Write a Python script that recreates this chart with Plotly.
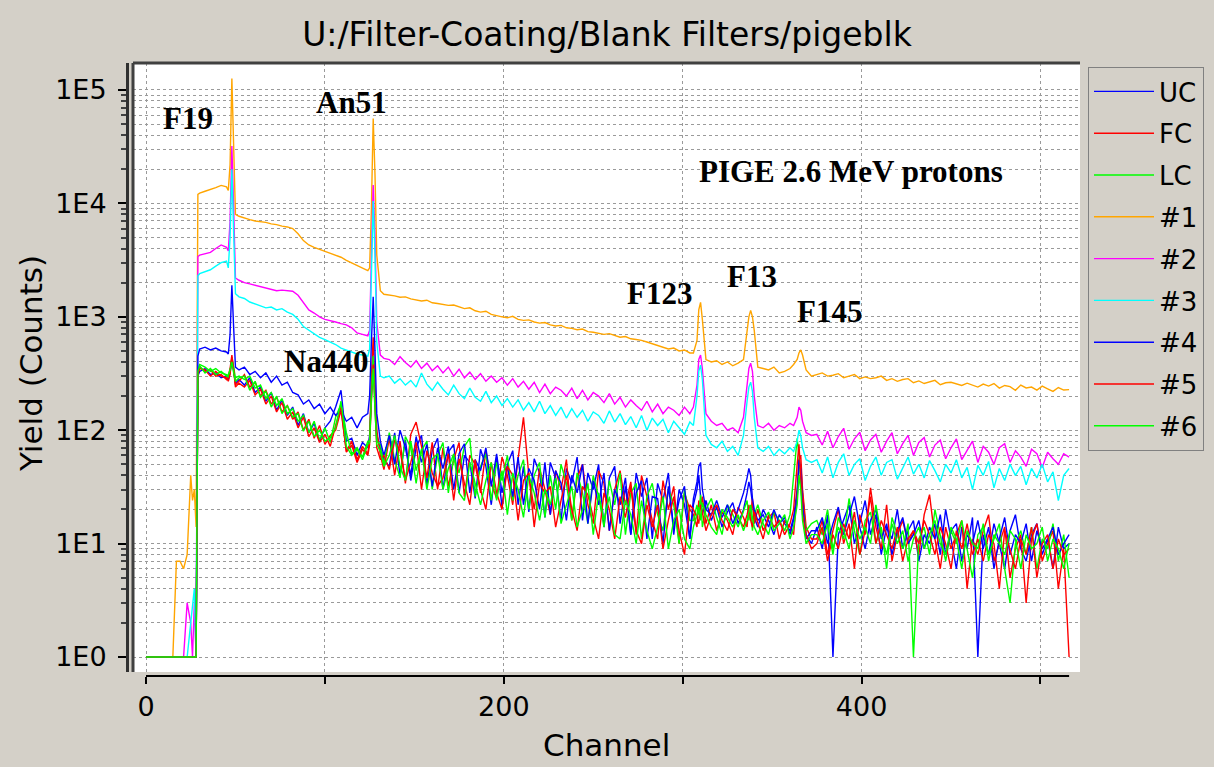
import math
import plotly.graph_objects as go

# PIGE spectra of blank filters (channel vs counts)
CHANNELS = ([0, 15, 17, 19, 21, 23, 25, 26, 27, 28,
             29, 30, 33, 36, 39, 42, 45, 46, 47, 48, 49, 50, 52]
            + list(range(55, 125, 3))
            + [125, 126, 127, 128, 129, 131, 133]
            + list(range(136, 305, 3))
            + [306, 308, 309, 310, 311, 313, 316, 319, 322, 325, 328, 331, 334,
               336, 337, 338, 339, 340, 342, 345, 348, 351, 354, 357, 360, 362,
               364, 365, 366, 367, 369, 372]
            + list(range(375, 517, 3)))

UC = [1, 1, 1, 1, 1, 1, 1, 1, 1, 1,
      300, 330, 350, 310, 320, 290, 300, 280, 320, 420, 330, 260, 280,
      250, 290, 215, 240, 180, 215, 150, 185, 135, 160, 110, 140, 95, 115, 80, 105, 120, 160, 225, 80, 85, 60, 78, 70,
      90, 200, 420, 200, 90, 70, 55,
      48, 95, 40, 82, 36, 70, 90, 33, 66, 85, 30, 64, 75, 28, 60, 52, 25, 68, 48, 22,
      58, 21, 50, 66, 22, 48, 19, 56, 42, 17, 52, 38, 16, 46, 34, 58, 16, 42, 30, 50,
      14, 38, 48, 15, 32, 12, 42, 26, 38, 11, 34, 24, 42, 12, 30, 22, 11,
      22, 30, 40, 26, 18, 24, 16, 21, 14, 19, 23, 15, 20, 28, 35, 30, 22, 17, 14, 20,
      16, 12, 18, 15, 13, 17, 30, 45, 50, 28, 12, 10,
      14, 9, 18, 1, 12, 16, 22, 10, 15, 24, 12, 18, 8, 14, 11, 20, 9, 13, 16, 7,
      12, 10, 15, 8, 20, 11, 6, 14, 9, 17, 1, 12, 8, 15, 10, 6, 13, 18, 9, 7,
      12, 15, 8, 11, 6, 14, 9, 10]

FC = [1, 1, 1, 1, 1, 1, 1, 1, 1, 1,
      320, 360, 330, 340, 300, 310, 280, 300, 350, 460, 350, 250, 270,
      310, 240, 265, 200, 225, 170, 195, 145, 165, 125, 145, 100, 125, 85, 110, 75, 90, 100, 150, 65, 80, 55, 72, 62,
      85, 300, 660, 250, 100, 60, 45,
      85, 40, 80, 34, 92, 118, 72, 38, 78, 30, 70, 32, 55, 78, 26, 60, 50, 28, 66, 34,
      25, 58, 40, 22, 56, 130, 40, 20, 46, 30, 18, 44, 30, 55, 16, 38, 50, 22, 15, 44,
      34, 13, 30, 44, 22, 35, 12, 40, 26, 16, 11, 36, 20, 32, 10, 28, 20,
      18, 14, 24, 20, 26, 15, 22, 13, 19, 16, 12, 21, 17, 14, 22, 18, 25, 15, 20, 13,
      17, 19, 11, 16, 14, 12, 28, 55, 60, 30, 14, 11,
      11, 16, 8, 13, 20, 10, 15, 6, 18, 12, 31, 14, 9, 22, 7, 12, 16, 10, 13, 8,
      18, 27, 11, 6, 14, 9, 12, 16, 4, 11, 8, 13, 18, 7, 10, 14, 5, 9, 12, 3,
      11, 15, 7, 10, 13, 4, 9, 1]

LC = [1, 1, 1, 1, 1, 1, 1, 1, 1, 1,
      340, 380, 360, 330, 350, 320, 310, 290, 330, 430, 360, 290, 300,
      280, 300, 235, 250, 190, 215, 165, 190, 140, 155, 120, 135, 95, 120, 82, 105, 78, 130, 170, 95, 62, 70, 58, 80,
      80, 220, 450, 180, 80, 75, 50,
      95, 55, 38, 88, 70, 34, 66, 80, 30, 60, 78, 28, 58, 42, 72, 85, 26, 48, 62, 24,
      52, 36, 60, 24, 40, 55, 20, 40, 52, 17, 40, 20, 50, 34, 16, 42, 28, 15, 40, 26,
      14, 36, 22, 42, 12, 28, 34, 11, 26, 34, 18, 13, 30, 22, 10, 30, 16,
      16, 22, 18, 27, 14, 20, 25, 17, 12, 22, 18, 14, 19, 24, 16, 20, 13, 18, 22, 15,
      12, 19, 16, 13, 18, 40, 85, 60, 35, 20, 13, 15,
      16, 12, 20, 9, 14, 11, 25, 13, 8, 16, 19, 10, 14, 6, 17, 12, 9, 15, 1, 11,
      14, 8, 20, 12, 7, 13, 10, 16, 9, 5, 12, 14, 8, 11, 15, 6, 3, 10, 13, 8,
      14, 6, 11, 9, 15, 7, 12, 5]

S1 = [1, 1, 7, 7, 6, 8, 40, 24, 30, 14,
      12000, 12300, 12800, 13200, 13800, 14400, 14000, 13000, 22000, 126000, 30000, 8000, 7700,
      7500, 7200, 7000, 6900, 6800, 6600, 6500, 6300, 6200, 6000, 5400, 4700,
      4300, 4100, 3950, 3800, 3650, 3500, 3350, 3150, 3000, 2850, 2700, 2550,
      2700, 9000, 56000, 18000, 3500, 1700, 1580,
      1560, 1530, 1490, 1500, 1440, 1420, 1380, 1400, 1330, 1310, 1290, 1260, 1270, 1220, 1180,
      1200, 1130, 1100, 1120, 1050, 1020, 1000, 980, 1010, 950, 930, 940, 900, 880, 890,
      850, 830, 840, 800, 790, 770, 780, 740, 730, 720, 700, 710, 680, 660, 670,
      640, 630, 620, 600, 580, 560, 540, 520, 530, 500, 510, 480,
      480, 620, 1150, 1340, 950, 420, 400, 410, 380, 400, 370, 390, 420, 800, 1000, 1140,
      1000, 760, 360, 350, 340, 360, 320, 330, 350, 380, 420, 480, 510, 460, 340, 300,
      310, 320, 300, 305, 315, 290, 300, 310, 285, 295, 285, 290, 300, 275, 285, 270,
      280, 285, 262, 272, 258, 268, 275, 252, 262, 265, 255, 248, 260, 250, 240, 255,
      245, 258, 235, 248, 242, 225, 250, 236, 240, 226, 245, 232, 220, 238, 226, 228]

S2 = [1, 1, 1, 1, 1, 3, 2, 1, 3, 1,
      3400, 3500, 3600, 3700, 4000, 4300, 4100, 3800, 7000, 32000, 9000, 2200, 2100,
      2000, 1950, 1900, 1850, 1800, 1750, 1700, 1720, 1700, 1680, 1550, 1350,
      1150, 1080, 1000, 950, 930, 900, 870, 850, 800, 720, 700, 680,
      760, 3000, 14500, 5000, 900, 460, 430,
      420, 380, 445, 395, 360, 410, 350, 390, 335, 370, 320, 360, 300, 345, 290, 325, 280, 315, 270,
      300, 265, 290, 250, 285, 240, 270, 230, 265, 215, 255, 210, 240, 225, 200, 235, 190, 225,
      185, 215, 200, 175, 210, 170, 195, 160, 185, 165, 150, 180, 145, 170, 140, 160, 150, 135, 160, 140,
      160, 250, 420, 460, 350, 140, 120, 110, 115, 100, 105, 95, 130, 250, 350, 390,
      330, 200, 110, 105, 115, 100, 110, 105, 115, 110, 130, 160, 150, 120, 95, 90,
      92, 74, 98, 70, 88, 104, 68, 84, 96, 66, 82, 92, 64, 80, 95, 62, 76, 90, 60, 78,
      86, 58, 74, 82, 56, 70, 84, 55, 66, 80, 52, 72, 64, 50, 70, 76, 52, 66, 58, 48,
      68, 62, 47, 64, 56, 50, 62, 58]

S3 = [1, 1, 1, 1, 1, 1, 2, 3, 4, 1,
      2300, 2400, 2500, 2600, 2800, 3000, 3100, 2700, 5000, 20000, 5500, 1600, 1500,
      1450, 1350, 1300, 1250, 1200, 1220, 1150, 1180, 1100, 1050, 950, 820,
      760, 700, 660, 630, 600, 570, 530, 510, 490, 470, 460, 450,
      520, 2200, 10500, 3500, 600, 300, 290,
      300, 260, 285, 250, 275, 240, 320, 255, 225, 265, 230, 205, 250, 210, 190, 235, 195, 180, 220,
      175, 200, 165, 190, 160, 185, 150, 175, 145, 180, 140, 165, 135, 160, 128, 155, 130, 150,
      120, 145, 135, 115, 148, 118, 140, 112, 132, 105, 135, 100, 128, 110, 125, 95, 120, 105, 92, 118,
      110, 200, 330, 375, 280, 90, 75, 70, 80, 65, 72, 60, 90, 180, 240, 265,
      220, 130, 70, 65, 72, 60, 68, 62, 70, 65, 80, 100, 90, 70, 55, 52,
      55, 42, 58, 38, 52, 62, 40, 50, 56, 36, 48, 58, 40, 52, 55, 37, 46, 58, 41, 50,
      38, 54, 44, 35, 50, 42, 55, 38, 47, 30, 49, 40, 53, 31, 46, 36, 50, 40, 48, 33,
      46, 38, 50, 35, 43, 24, 40, 46]

S4 = [1, 1, 1, 1, 1, 1, 1, 1, 1, 1,
      450, 520, 540, 510, 530, 500, 490, 470, 700, 1900, 800, 360, 340,
      360, 310, 330, 290, 320, 265, 300, 250, 265, 215, 205, 170, 185, 155, 170, 140, 160, 135, 150, 120, 130, 105, 130, 140,
      200, 600, 1500, 500, 140, 80, 60,
      90, 50, 100, 70, 40, 88, 52, 75, 32, 70, 46, 72, 30, 62, 76, 28, 55, 44, 70, 32,
      62, 28, 48, 26, 58, 22, 46, 36, 20, 52, 18, 44, 34, 16, 40, 28, 50, 15, 36, 22,
      42, 13, 30, 22, 38, 12, 28, 36, 11, 26, 25, 10, 32, 14, 24, 32, 11,
      25, 35, 48, 52, 30, 20, 18, 24, 17, 22, 15, 20, 28, 38, 46, 40, 25, 20, 16, 18,
      14, 20, 15, 17, 12, 16, 25, 55, 45, 22, 11, 13,
      13, 17, 10, 15, 21, 12, 18, 26, 14, 9, 16, 20, 11, 15, 8, 13, 17, 10, 12, 16,
      9, 14, 11, 18, 8, 13, 15, 7, 12, 10, 16, 9, 14, 6, 11, 17, 8, 12, 10, 15,
      7, 13, 9, 11, 14, 8, 10, 12]

S5 = [1, 1, 1, 1, 1, 1, 1, 1, 1, 1,
      310, 350, 340, 300, 330, 300, 290, 270, 310, 440, 340, 240, 260,
      240, 275, 205, 230, 170, 200, 145, 175, 125, 145, 105, 130, 88, 105, 78, 92, 72, 110, 160, 64, 74, 52, 68, 60,
      75, 180, 380, 160, 70, 55, 60,
      45, 82, 66, 36, 52, 78, 30, 66, 42, 32, 38, 62, 24, 56, 34, 22, 55, 30, 20, 52,
      28, 20, 48, 40, 16, 36, 42, 14, 34, 28, 32, 14, 24, 40, 20, 13, 32, 27, 17, 11,
      28, 20, 11, 26, 17, 32, 13, 10, 22, 14, 22, 9, 16, 26, 13, 8, 22,
      20, 17, 15, 22, 19, 13, 18, 22, 16, 13, 20, 17, 14, 18, 21, 16, 14, 19, 15, 11,
      18, 14, 16, 12, 15, 20, 50, 75, 40, 18, 12, 9,
      10, 14, 7, 12, 9, 15, 11, 19, 8, 13, 26, 10, 16, 12, 9, 14, 7, 11, 13, 10,
      16, 12, 8, 14, 10, 6, 13, 9, 15, 8, 11, 7, 12, 10, 4, 13, 9, 6, 11, 8,
      14, 5, 10, 12, 6, 11, 8, 9]

S6 = [1, 1, 1, 1, 1, 1, 1, 1, 1, 1,
      330, 370, 320, 350, 310, 330, 300, 310, 340, 400, 320, 270, 290,
      300, 225, 270, 195, 220, 160, 200, 140, 165, 130, 140, 98, 120, 88, 100, 80, 86, 105, 180, 72, 60, 68, 55, 75,
      78, 190, 350, 150, 75, 65, 48,
      60, 90, 48, 36, 80, 44, 68, 30, 56, 62, 30, 46, 62, 28, 24, 52, 34, 22, 36, 52,
      24, 44, 18, 42, 30, 17, 40, 28, 16, 30, 22, 38, 15, 22, 32, 14, 20, 34, 12, 28,
      16, 26, 12, 11, 24, 18, 10, 24, 13, 9, 14, 26, 9, 16, 20, 11, 9,
      14, 19, 21, 16, 23, 18, 14, 12, 20, 17, 14, 18, 13, 16, 19, 22, 17, 14, 12, 16,
      19, 13, 15, 18, 11, 14, 22, 40, 30, 16, 10, 12,
      12, 10, 15, 8, 17, 13, 9, 16, 11, 14, 10, 22, 12, 8, 15, 10, 13, 7, 11, 14,
      9, 12, 16, 10, 8, 14, 11, 6, 13, 10, 9, 15, 7, 12, 10, 8, 13, 11, 6, 12,
      9, 10, 14, 7, 11, 9, 6, 10]

SERIES = [
    ("UC", UC, "#0000ff"),
    ("FC", FC, "#ff0000"),
    ("LC", LC, "#00ff00"),
    ("#1", S1, "#ffa500"),
    ("#2", S2, "#ff00ff"),
    ("#3", S3, "#00ffff"),
    ("#4", S4, "#0000ff"),
    ("#5", S5, "#ff0000"),
    ("#6", S6, "#00ff00"),
]

# peak labels: (text, channel, counts)
PEAK_LABELS = [
    ("F19", 23.5, 55500),
    ("An51", 115, 78000),
    ("PIGE 2.6 MeV protons", 394, 19300),
    ("F123", 287, 1620),
    ("F13", 339, 2290),
    ("F145", 382, 1125),
    ("Na440", 100.5, 400),
]

Y_TICKS = [1, 10, 100, 1000, 10000, 100000]
Y_TEXT = ["1E0", "1E1", "1E2", "1E3", "1E4", "1E5"]
X_TICKS = [0, 100, 200, 300, 400, 500]
X_TEXT = ["0", "", "200", "", "400", ""]

for name, vals, _ in SERIES:
    assert len(vals) == len(CHANNELS), (name, len(vals), len(CHANNELS))

BG = "#d4d0c8"
GRID = "#9a9a9a"
SANS = "DejaVu Sans"
SERIF = "Liberation Serif"

# pixel layout helpers
L, R, T, B = 127, 134, 63, 91
W, H = 1214 - L - R, 767 - T - B
X0 = 6 / W        # plot area starts a few px right of the y axis line
Y0 = 4 / H        # and a few px above the x axis line

fig = go.Figure()
for name, vals, colour in SERIES:
    fig.add_trace(go.Scatter(
        x=CHANNELS, y=vals, mode="lines", name=name, legendgroup=name,
        line=dict(color=colour, width=1.4),
    ))

for text, ch, cnt in PEAK_LABELS:
    fig.add_annotation(x=ch, y=math.log10(cnt), text=f"<b>{text}</b>",
                       showarrow=False, font=dict(family=SERIF, size=31, color="black"))

# axis titles
fig.add_annotation(xref="paper", yref="paper", x=(606 - L) / W, y=(676 - 745) / H,
                   xanchor="center", yanchor="middle",
                   text="Channel", showarrow=False,
                   font=dict(family=SANS, size=31, color="black"))
fig.add_annotation(xref="paper", yref="paper", x=(31 - L) / W, y=(676 - 364) / H,
                   xanchor="center", yanchor="middle",
                   text="Yield (Counts)", textangle=-90, showarrow=False,
                   font=dict(family=SANS, size=31, color="black"))

# x axis line spans the data only, sunken border on plot area
fig.add_shape(type="line", xref="x", yref="paper", x0=min(CHANNELS), x1=max(CHANNELS),
              y0=0, y1=0, line=dict(color="black", width=2))
fig.add_shape(type="line", xref="paper", yref="paper", x0=X0, x1=X0, y0=Y0, y1=1,
              line=dict(color="#404040", width=3))
fig.add_shape(type="line", xref="paper", yref="paper", x0=X0, x1=1, y0=1, y1=1,
              line=dict(color="#404040", width=3))

minor_vals = [m * d for d in Y_TICKS for m in range(2, 10)]

fig.update_layout(
    width=1214, height=767,
    paper_bgcolor=BG, plot_bgcolor="white",
    margin=dict(l=L, r=R, t=T, b=B, autoexpand=False),
    font=dict(family=SANS, size=26, color="black"),
    title=dict(text="U:/Filter-Coating/Blank Filters/pigeblk", x=607 / 1214, xref="container",
               y=1 - 34 / 767, yref="container", xanchor="center", yanchor="middle",
               font=dict(family=SANS, size=33, color="black")),
    xaxis=dict(
        domain=[X0, 1], range=[-7.27, 522.1], anchor="free", position=0,
        tickmode="array", tickvals=X_TICKS, ticktext=X_TEXT,
        ticks="outside", ticklen=7, tickwidth=2, tickcolor="black",
        tickfont=dict(family=SANS, size=27),
        showline=False, zeroline=False,
        showgrid=True, gridcolor=GRID, griddash="dot", gridwidth=1,
    ),
    yaxis=dict(
        domain=[Y0, 1], type="log", range=[-0.132, 5.238], anchor="free", position=0,
        tickmode="array", tickvals=Y_TICKS, ticktext=Y_TEXT,
        ticks="outside", ticklen=8, tickwidth=2, tickcolor="black",
        tickfont=dict(family=SANS, size=27), ticklabelstandoff=6,
        showline=True, linecolor="#303030", linewidth=3, zeroline=False,
        showgrid=True, gridcolor=GRID, griddash="dot", gridwidth=1,
        minor=dict(tickmode="array", tickvals=minor_vals, ticks="outside", ticklen=5,
                   tickwidth=2, tickcolor="#404040",
                   showgrid=True, gridcolor=GRID, griddash="dot", gridwidth=1),
    ),
    legend=dict(
        x=(1088 - L) / W, y=1 - 4 / H, xanchor="left", yanchor="top",
        bgcolor=BG, bordercolor="#808080", borderwidth=1,
        font=dict(family=SANS, size=26), tracegroupgap=5, itemwidth=60,
    ),
    showlegend=True,
)

# drop the browser's default 8px body margin so the figure sits at the page origin
fig.write_html("out.html", config={"displayModeBar": False},
               post_script="document.body.style.margin = '0';")
